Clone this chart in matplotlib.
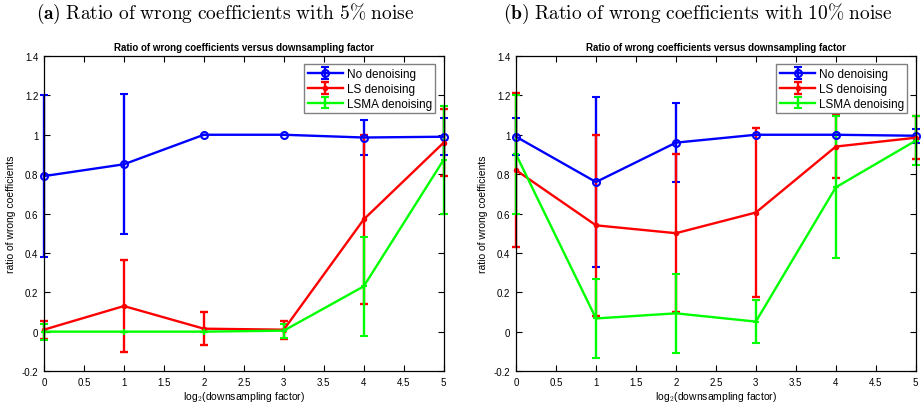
import numpy as np
import matplotlib
matplotlib.use("Agg")
import matplotlib.pyplot as plt
from matplotlib.ticker import FormatStrFormatter, MultipleLocator

plt.rcParams['font.family'] = ['Liberation Sans', 'DejaVu Sans']
plt.rcParams['mathtext.fontset'] = 'cm'

# log2 of downsampling factor
x = [0, 1, 2, 3, 4, 5]

# (a) 5% noise
a_none = [0.79, 0.85, 1.00, 1.00, 0.986, 0.99]
a_none_err = [0.41, 0.355, 0.0, 0.0, 0.09, 0.093]
a_ls = [0.01, 0.13, 0.015, 0.01, 0.57, 0.96]
a_ls_err = [0.045, 0.235, 0.085, 0.045, 0.43, 0.17]
a_lsma = [0.0, 0.0, 0.0, 0.005, 0.23, 0.873]
a_lsma_err = [0.04, 0.0, 0.0, 0.035, 0.25, 0.275]

# (b) 10% noise
b_none = [0.99, 0.76, 0.96, 1.00, 1.00, 0.995]
b_none_err = [0.095, 0.43, 0.20, 0.0, 0.0, 0.035]
b_ls = [0.82, 0.54, 0.50, 0.605, 0.94, 0.985]
b_ls_err = [0.39, 0.46, 0.40, 0.43, 0.16, 0.11]
b_lsma = [0.90, 0.067, 0.093, 0.051, 0.733, 0.97]
b_lsma_err = [0.30, 0.20, 0.20, 0.11, 0.36, 0.125]

labels = ['No denoising', 'LS denoising', 'LSMA denoising']
titles = [r'$\mathbf{(a)}$ $\mathrm{Ratio\ of\ wrong\ coefficients\ with\ 5\%\ noise}$',
          r'$\mathbf{(b)}$ $\mathrm{Ratio\ of\ wrong\ coefficients\ with\ 10\%\ noise}$']

panels = [
    [(a_none, a_none_err), (a_ls, a_ls_err), (a_lsma, a_lsma_err)],
    [(b_none, b_none_err), (b_ls, b_ls_err), (b_lsma, b_lsma_err)],
]
styles = [
    dict(color='#0000ff', marker='o', markersize=5, markerfacecolor='none', markeredgewidth=1.5),
    dict(color='#ff0000', marker='.', markersize=6),
    dict(color='#00ff00', marker='+', markersize=5, markeredgewidth=1.5),
]

fig = plt.figure(figsize=(9.22, 4.06), dpi=100)
lefts = [0.0477, 0.5597]

for i, (left, series) in enumerate(zip(lefts, panels)):
    ax = fig.add_axes([left, 0.0837, 0.4335, 0.7759])
    for (vals, err), lab, st in zip(series, labels, styles):
        cont = ax.errorbar(x, vals, yerr=err, label=lab, linewidth=1.7,
                           elinewidth=1.7, capsize=2.8, capthick=1.7, **st)
        # matlab draws the bars at the axis edges in full
        for art in cont.lines[1]:
            art.set_clip_on(False)
        for art in cont.lines[2]:
            art.set_clip_on(False)
        cont.lines[0].set_clip_on(False)
    ax.set_xlim(0, 5)
    ax.set_ylim(-0.2, 1.4)
    ax.xaxis.set_major_locator(MultipleLocator(0.5))
    ax.yaxis.set_major_locator(MultipleLocator(0.2))
    ax.xaxis.set_major_formatter(FormatStrFormatter('%g'))
    ax.yaxis.set_major_formatter(FormatStrFormatter('%g'))
    ax.tick_params(direction='in', top=True, right=True, length=4,
                   width=0.8, labelsize=7, pad=4)
    for sp in ax.spines.values():
        sp.set_linewidth(0.9)
    ax.set_title('Ratio of wrong coefficients versus downsampling factor',
                 fontsize=7, fontweight='bold', pad=4)
    ax.set_xlabel(r'log$_2$(downsampling factor)', fontsize=7.5, labelpad=2)
    ax.set_ylabel('ratio of wrong coefficients', fontsize=7.5, labelpad=4)
    ax.legend(loc='upper right', fontsize=8.5, frameon=True, fancybox=False,
              edgecolor='#808080', framealpha=1, borderaxespad=0.7,
              handlelength=3.0, handletextpad=0.3, borderpad=0.3,
              labelspacing=0.25)
    fig.text(left + 0.4335 / 2 - 0.02, 0.965, titles[i], fontsize=14,
             ha='center', va='center')

fig.savefig('out.png', dpi=100)
